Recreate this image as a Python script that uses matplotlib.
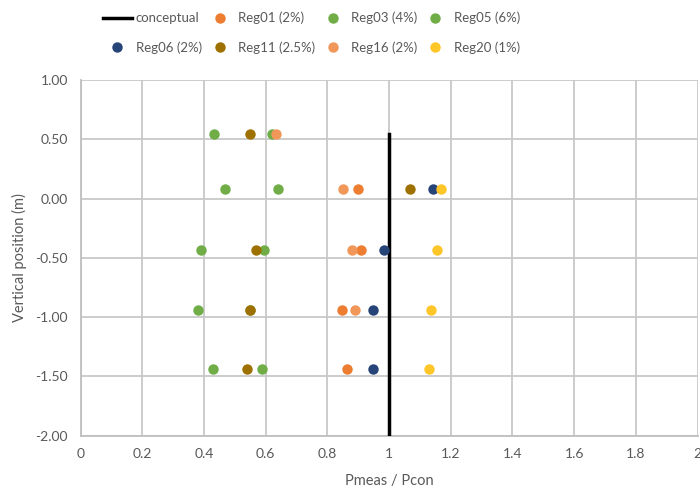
import matplotlib
matplotlib.use('Agg')
import matplotlib.pyplot as plt
from matplotlib.lines import Line2D

plt.rcParams['font.family'] = ['Lato', 'DejaVu Sans']

# Datos
conceptual_x = [1.0, 1.0]
conceptual_y = [-2.0, 0.54]

series_names = ['Reg01 (2%)', 'Reg03 (4%)', 'Reg05 (6%)', 'Reg06 (2%)',
                'Reg11 (2.5%)', 'Reg16 (2%)', 'Reg20 (1%)']
series_colors = ['#ED7D31', '#70AD47', '#70AD47', '#264478',
                 '#9E7000', '#F1975A', '#FFC62A']

reg01_x = [0.899, 0.909, 0.849, 0.863]
reg01_y = [0.08, -0.43, -0.94, -1.44]
reg03_x = [0.434, 0.469, 0.391, 0.380, 0.428]
reg03_y = [0.54, 0.08, -0.43, -0.94, -1.44]
reg05_x = [0.622, 0.641, 0.596, 0.550, 0.587]
reg05_y = [0.54, 0.08, -0.43, -0.94, -1.44]
reg06_x = [1.144, 0.983, 0.949, 0.947]
reg06_y = [0.08, -0.43, -0.94, -1.44]
reg11_x = [0.549, 1.067, 0.570, 0.550, 0.541]
reg11_y = [0.54, 0.08, -0.43, -0.94, -1.44]
reg16_x = [0.634, 0.851, 0.881, 0.890]
reg16_y = [0.54, 0.08, -0.43, -0.94]
reg20_x = [1.170, 1.155, 1.135, 1.131]
reg20_y = [0.08, -0.43, -0.94, -1.44]

series_x = [reg01_x, reg03_x, reg05_x, reg06_x, reg11_x, reg16_x, reg20_x]
series_y = [reg01_y, reg03_y, reg05_y, reg06_y, reg11_y, reg16_y, reg20_y]

x_ticks = [0, 0.2, 0.4, 0.6, 0.8, 1, 1.2, 1.4, 1.6, 1.8, 2]
x_labels = ['0', '0.2', '0.4', '0.6', '0.8', '1', '1.2', '1.4', '1.6', '1.8', '2']
y_ticks = [1.0, 0.5, 0.0, -0.5, -1.0, -1.5, -2.0]

fig = plt.figure(figsize=(7.0, 4.93), dpi=100)
ax = fig.add_axes([0.115, 0.116, 0.8815, 0.722])

ax.plot(conceptual_x, conceptual_y, color='black', lw=2.5, zorder=3)
for xs, ys, c in zip(series_x, series_y, series_colors):
    ax.plot(xs, ys, 'o', color=c, ms=7.5, mec='none', zorder=4)

ax.set_xlim(0, 2)
ax.set_ylim(-2, 1)
ax.set_xticks(x_ticks)
ax.set_xticklabels(x_labels)
ax.set_yticks(y_ticks)
ax.set_yticklabels([f'{v:.2f}' for v in y_ticks])
ax.grid(True, color='#C8C8C8', lw=1.3)
ax.set_axisbelow(True)
for s in ['top', 'right']:
    ax.spines[s].set_visible(False)
for s in ['left', 'bottom']:
    ax.spines[s].set_color('#BFBFBF')
    ax.spines[s].set_linewidth(1.3)
ax.tick_params(length=0, colors='#595959', labelsize=10, pad=9)
ax.set_xlabel('Pmeas / Pcon', color='#595959', fontsize=10.5, labelpad=10)
ax.set_ylabel('Vertical position (m)', color='#595959', fontsize=10.5, labelpad=6)

# leyenda: filas como en Excel
h = [Line2D([], [], color='black', lw=2.5)]
for c in series_colors:
    h.append(Line2D([], [], ls='none', marker='o', color=c, ms=7.5, mec='none'))
labels = ['conceptual'] + series_names
order = [0, 4, 1, 5, 2, 6, 3, 7]
fig.legend([h[i] for i in order], [labels[i] for i in order], ncol=4,
           loc='upper left', bbox_to_anchor=(0.139, 0.987), frameon=False,
           fontsize=9.5, labelcolor='#595959', handlelength=2.2,
           columnspacing=0.25, handletextpad=0.3, labelspacing=1.3,
           borderaxespad=0.0)

fig.savefig('out.png', dpi=100)
